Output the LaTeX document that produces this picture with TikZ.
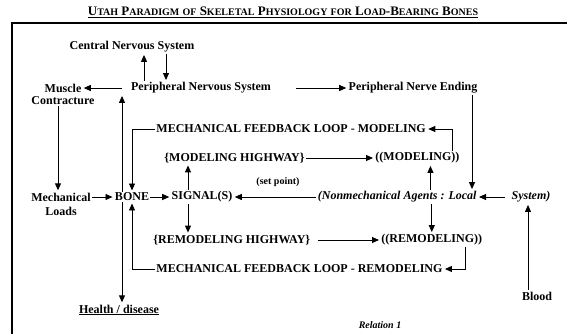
\documentclass[tikz,border=0pt]{standalone}
\usepackage{fontspec}
\setmainfont{Liberation Serif}
\usetikzlibrary{arrows.meta}
\newcommand\smc[1]{{\fontsize{10}{11}\selectfont #1}}
\begin{document}
\begin{tikzpicture}[x=1pt,y=-1pt,shorten >=1pt,line width=0.9pt,>={Triangle[length=7pt,width=6pt]}]
  \def\fs{12}

\tikzstyle{lbl}=[inner sep=1pt,font=\fontsize{\fs}{13}\selectfont\bfseries]
\tikzstyle{ital}=[inner sep=1pt,font=\fontsize{\fs}{13}\selectfont\bfseries\itshape]
\tikzstyle{note}=[inner sep=1pt,font=\fontsize{10}{11}\selectfont\bfseries]
\useasboundingbox (0,0) rectangle (567,335);
% frame
\draw[line width=2pt] (567,23) -- (12,23) -- (12,335);
\node[inner sep=1pt,font=\fontsize{13}{14}\selectfont\bfseries] (title) at (283,12)
  {\underline{U\smc{TAH} P\smc{ARADIGM} \smc{OF} S\smc{KELETAL} P\smc{HYSIOLOGY} \smc{FOR} L\smc{OAD}-B\smc{EARING} B\smc{ONES}}};
% nervous system
\node[lbl] (CNS) at (132,47) {Central Nervous System};
\node[lbl] (PNS) at (201,88) {Peripheral Nervous System};
\draw[->] ([xshift=12pt]CNS.south |- PNS.north) -- ([xshift=12pt]CNS.south);
\draw[->] ([xshift=34pt]CNS.south) -- ([xshift=34pt]CNS.south |- PNS.north);
\node[lbl] (MUS) at (63,88) {Muscle};
\node[lbl] (CON) at (63,101) {Contracture};
\draw[->,shorten <=8pt] (PNS) -- (MUS);
\node[lbl] (PNE) at (413,88) {Peripheral Nerve Ending};
\draw[->,shorten <=24pt] (PNS) -- (PNE);
% bone row
\node[lbl] (MEC) at (61,197) {Mechanical};
\node[lbl] (LOA) at (61,211) {Loads};
\draw[->] ([xshift=-5pt]CON.south) -- ([xshift=-5pt]CON.south |- MEC.north);
\node[lbl] (BONE) at (132,197) {BONE};
\draw[->] (MEC) -- (BONE);
\node[lbl] (SIG) at (202,197) {SIGNAL(S)};
\draw[->] (BONE) -- (SIG);
\draw[->] ([xshift=-10pt]BONE.north) -- ([xshift=-10pt]BONE.north |- PNS.south);
\node[lbl] (HEA) at (119,310) {\underline{Health / disease}};
\draw[->] ([xshift=-10pt]BONE.south) -- ([xshift=-10pt]BONE.south |- HEA.north);
\node[ital,anchor=east] (NM) at (478,197) {(Nonmechanical Agents : Local};
\node[ital] (SYS) at (531,197) {System)};
\draw[->,shorten <=5pt] (SYS) -- (NM);
\node[note] (SP) at (278,182) {(set point)};
\draw[->] (NM) -- (SIG);
\node[lbl] (BLO) at (537,296) {Blood};
\draw[->] ([xshift=-9pt]BLO.north) -- ([xshift=-9pt]BLO.north |- SYS.south);
\draw[->] ([xshift=59pt]PNE.south) -- ([xshift=59pt]PNE.south |- NM.north);
% modeling
\node[lbl,anchor=west] (MHW) at (163,158) {\{MODELING HIGHWAY\}};
\node[lbl,anchor=west] (MOD) at (374,158) {((MODELING))};
\draw[->] (MHW) -- (MOD);
\draw[->] ([xshift=-14pt]SIG.north) -- ([xshift=-14pt]SIG.north |- MHW.south);
\draw[->] ([xshift=13pt]MOD.south |- NM.north) -- ([xshift=13pt]MOD.south);
\node[lbl,anchor=west] (FBM) at (155,129) {MECHANICAL FEEDBACK LOOP - MODELING};
\draw[->] ([xshift=-8pt]MOD.north east) |- (FBM.east);
\draw[->] (FBM.west) -| (BONE.north);
% remodeling
\node[lbl,anchor=west] (RHW) at (152,240) {\{REMODELING HIGHWAY\}};
\node[lbl,anchor=west] (REM) at (380,240) {((REMODELING))};
\draw[->,shorten <=6pt] (RHW) -- (REM);
\draw[->] ([xshift=-14pt]SIG.south) -- ([xshift=-14pt]SIG.south |- RHW.north);
\draw[->] (REM.north |- NM.south) -- (REM.north);
\node[lbl,anchor=west] (FBR) at (155,269) {MECHANICAL FEEDBACK LOOP - REMODELING};
\draw[->] ([xshift=-18pt]REM.south east) |- (FBR.east);
\draw[->] (FBR.west) -| (BONE.south);
\node[note,font=\fontsize{10}{11}\selectfont\bfseries\itshape] (REL) at (380,325) {Relation 1};
\end{tikzpicture}
\end{document}
